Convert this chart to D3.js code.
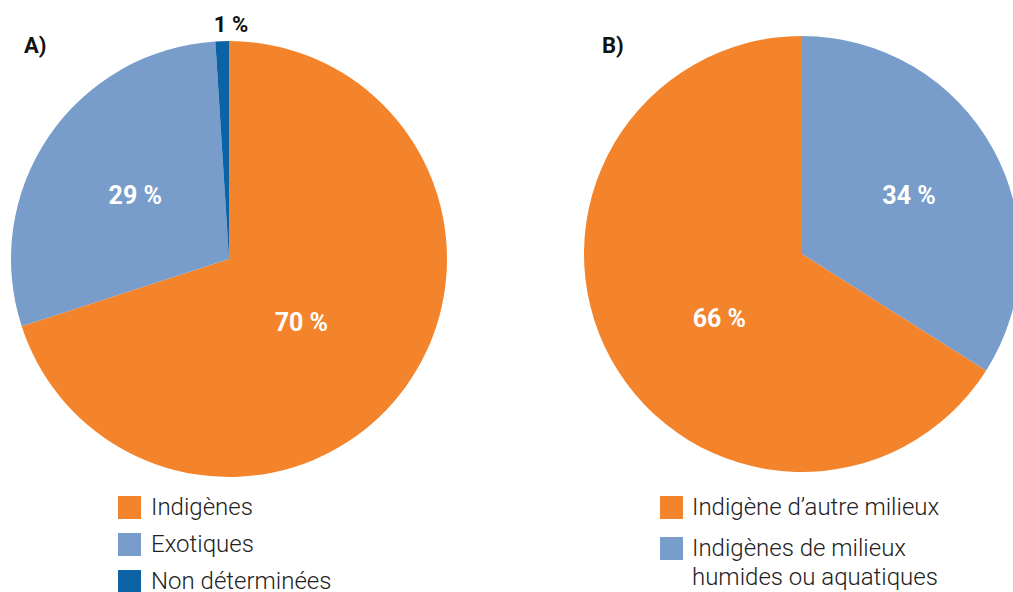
<!DOCTYPE html>
<html>
<head>
<meta charset="utf-8">
<script src="https://cdn.jsdelivr.net/npm/d3@7"></script>
<style>
  body { margin: 0; background: #fff; }
  svg { display: block; font-family: Roboto, "Noto Sans", sans-serif; }
  .pct { font-weight: 700; font-size: 25px; fill: #fff; }
  .panel { font-weight: 700; font-size: 22px; fill: #111; }
  .leg { font-weight: 300; font-size: 24px; fill: #222; }
</style>
</head>
<body>
<div id="chart"></div>
<script>
// panel A
const catsA = ["Indigènes", "Exotiques", "Non déterminées"];
const valsA = [70, 29, 1];
const colorsA = ["#f4842b", "#789dcb", "#0b63a5"];
const labRadA = [0.44, 0.52]; // label distance from centre, as share of radius
const labAngA = [5, 0];       // small angular nudge of labels, degrees

// panel B (blue first, clockwise from top)
const catsB = ["Indigènes de milieux humides ou aquatiques", "Indigène d’autre milieux"];
const valsB = [34, 66];
const colorsB = ["#789dcb", "#f4842b"];
const labRadB = [0.56, 0.48];
const labAngB = [0, -9];

const W = 1013, H = 592;
const R = 218;

const svg = d3.select("#chart").append("svg")
    .attr("width", W)
    .attr("height", H);

const pie = d3.pie().sort(null).value(d => d);
const arc = d3.arc().innerRadius(0).outerRadius(R);

function drawPie(cx, cy, vals, colors, labRad, labAng) {
    const g = svg.append("g").attr("transform", `translate(${cx}, ${cy})`);
    const arcs = pie(vals);
    g.selectAll("path")
        .data(arcs)
        .join("path")
        .attr("d", arc)
        .attr("fill", (d, i) => colors[i]);

    g.selectAll("text.pct")
        .data(arcs.slice(0, labRad.length))
        .join("text")
        .attr("class", "pct")
        .attr("text-anchor", "middle")
        .attr("dy", "0.35em")
        .attr("transform", (d, i) => {
            const r = R * labRad[i];
            const a = (d.startAngle + d.endAngle) / 2 + labAng[i] * Math.PI / 180;
            return `translate(${Math.sin(a) * r}, ${-Math.cos(a) * r})`;
        })
        .text(d => d.data + " %");
    return g;
}

// A
const gA = drawPie(229, 259, valsA, colorsA, labRadA, labAngA);
// small slice label outside the pie
gA.append("text")
    .attr("class", "panel")
    .attr("text-anchor", "middle")
    .attr("x", 2)
    .attr("y", -227)
    .text(valsA[2] + " %");

// B
drawPie(802, 254, valsB, colorsB, labRadB, labAngB);

// panel letters
svg.append("text").attr("class", "panel").attr("x", 24).attr("y", 53).text("A)");
svg.append("text").attr("class", "panel").attr("x", 602).attr("y", 53).text("B)");

// legend A
const legA = svg.append("g").attr("transform", "translate(118, 496)");
catsA.forEach((c, i) => {
    legA.append("rect").attr("x", 0).attr("y", i * 37).attr("width", 23).attr("height", 23).attr("fill", colorsA[i]);
    legA.append("text").attr("class", "leg").attr("x", 33).attr("y", i * 37 + 19).text(c);
});

// legend B (order: orange, then blue with wrapped text)
const legB = svg.append("g").attr("transform", "translate(660, 496)");
const legBItems = [
    { lines: [catsB[1]], color: colorsB[1] },
    { lines: ["Indigènes de milieux", "humides ou aquatiques"], color: colorsB[0] }
];
legBItems.forEach((it, i) => {
    legB.append("rect").attr("x", 0).attr("y", i * 41).attr("width", 23).attr("height", 23).attr("fill", it.color);
    const t = legB.append("text").attr("class", "leg").attr("x", 32).attr("y", i * 41 + 19);
    it.lines.forEach((l, j) => {
        t.append("tspan").attr("x", 32).attr("dy", j === 0 ? 0 : 29).text(l);
    });
});
</script>
</body>
</html>
